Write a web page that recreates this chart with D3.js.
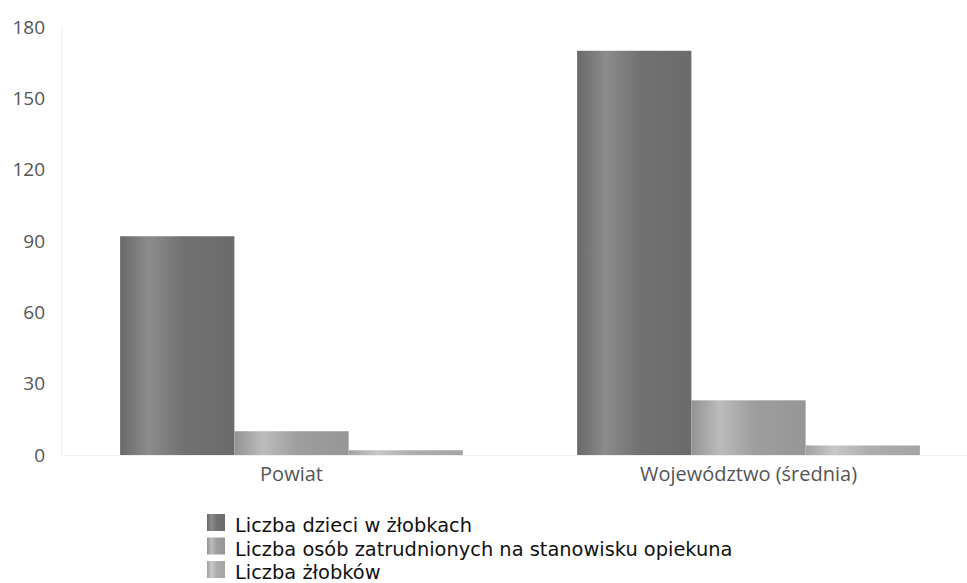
<!DOCTYPE html>
<html><head><meta charset="utf-8">
<script src="https://cdn.jsdelivr.net/npm/d3@7"></script>
<style>body{margin:0;background:#fff}svg{display:block}</style>
</head><body>
<svg id="c" width="967" height="583"></svg>
<script>
const categories = ["Powiat", "Województwo (średnia)"];
const seriesNames = ["Liczba dzieci w żłobkach", "Liczba osób zatrudnionych na stanowisku opiekuna", "Liczba żłobków"];
const dzieci = [92, 170];
const opiekunowie = [10, 23];
const zlobki = [2, 4];
const yTicks = [0, 30, 60, 90, 120, 150, 180];

const series = [dzieci, opiekunowie, zlobki];
const baseCols = ["#717171", "#9e9e9e", "#adadad"];
const hiCols = ["#8c8c8c", "#bcbcbc", "#c8c8c8"];

const svg = d3.select("#c");
const defs = svg.append("defs");
baseCols.forEach((c, i) => {
  const g = defs.append("linearGradient").attr("id", "g" + i).attr("x1", "0").attr("x2", "1").attr("y1", "0").attr("y2", "0");
  g.append("stop").attr("offset", "0").attr("stop-color", d3.color(c).darker(0.2));
  g.append("stop").attr("offset", "0.25").attr("stop-color", hiCols[i]);
  g.append("stop").attr("offset", "0.55").attr("stop-color", c);
  g.append("stop").attr("offset", "1").attr("stop-color", d3.color(c).darker(0.15));
});

const y = d3.scaleLinear().domain([0, 180]).range([455, 27]);
const x0 = d3.scaleBand().domain(categories).range([63, 977]).paddingInner(0.25).paddingOuter(0.125);
const x1 = d3.scaleBand().domain(d3.range(series.length)).range([0, x0.bandwidth()]);

// faint axis lines
svg.append("line").attr("x1", 62).attr("x2", 62).attr("y1", y(180)).attr("y2", y(0)).attr("stroke", "#ececec");
svg.append("line").attr("x1", 62).attr("x2", 967).attr("y1", y(0) + 0.5).attr("y2", y(0) + 0.5).attr("stroke", "#efefef");

const yAxis = d3.axisLeft(y).tickValues(yTicks).tickSize(0).tickPadding(0);
const ya = svg.append("g").attr("transform", "translate(45,0)").call(yAxis);
ya.select(".domain").remove();
ya.selectAll("text").attr("font-family", "Open Sans").attr("font-size", 19).attr("fill", "#555");

const xAxis = d3.axisBottom(x0).tickSize(0).tickPadding(0);
const xa = svg.append("g").attr("transform", "translate(0,464)").call(xAxis);
xa.select(".domain").remove();
xa.selectAll("text").attr("font-family", "Open Sans").attr("font-size", 20).attr("fill", "#555").attr("dy", "0.85em");

categories.forEach((cat, ci) => {
  series.forEach((s, si) => {
    svg.append("rect")
      .attr("x", x0(cat) + x1(si))
      .attr("width", x1.bandwidth())
      .attr("y", y(s[ci]))
      .attr("height", y(0) - y(s[ci]))
      .attr("fill", "url(#g" + si + ")");
  });
});

const lg = svg.append("g").attr("transform", "translate(207,0)");
seriesNames.forEach((n, i) => {
  const base = 532 + i * 23.5;
  lg.append("rect").attr("y", base - 18).attr("width", 18).attr("height", 17).attr("fill", "url(#g" + i + ")");
  lg.append("text").attr("x", 28).attr("y", base)
    .attr("font-family", "DejaVu Sans").attr("font-size", 19.4).attr("fill", "#111").text(n);
});
</script>
</body></html>
